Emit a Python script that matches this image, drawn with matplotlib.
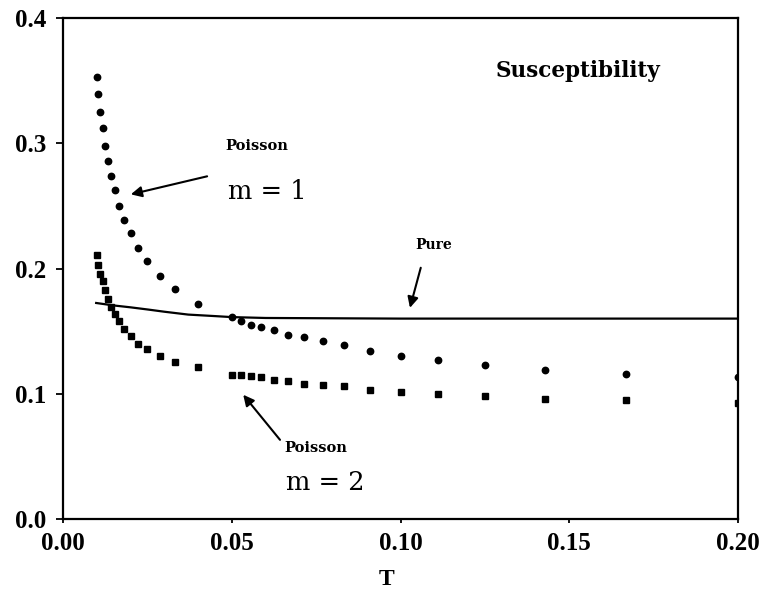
import matplotlib
matplotlib.use("Agg")
import matplotlib.pyplot as plt

# ---- data ----
t_m1 = [0.0100, 0.0105, 0.0111, 0.0118, 0.0125, 0.0133, 0.0143, 0.0154, 0.0167,
        0.0182, 0.0200, 0.0222, 0.0250, 0.0286, 0.0333, 0.0400, 0.0500, 0.0526,
        0.0556, 0.0588, 0.0625, 0.0667, 0.0714, 0.0769, 0.0833, 0.0909, 0.1000,
        0.1111, 0.1250, 0.1429, 0.1667, 0.2000]
chi_m1 = [0.353, 0.339, 0.325, 0.312, 0.298, 0.286, 0.274, 0.263, 0.250,
          0.239, 0.228, 0.216, 0.206, 0.194, 0.184, 0.172, 0.161, 0.158,
          0.155, 0.153, 0.151, 0.147, 0.145, 0.142, 0.139, 0.134, 0.130,
          0.127, 0.123, 0.119, 0.116, 0.113]

t_m2 = t_m1
chi_m2 = [0.211, 0.203, 0.196, 0.190, 0.183, 0.176, 0.169, 0.164, 0.158,
          0.152, 0.146, 0.140, 0.136, 0.130, 0.125, 0.121, 0.115, 0.115,
          0.114, 0.113, 0.111, 0.110, 0.108, 0.107, 0.106, 0.103, 0.101,
          0.100, 0.098, 0.096, 0.095, 0.093]

t_pure = [0.0095, 0.0150, 0.0200, 0.0253, 0.0300, 0.0371, 0.0450, 0.0500, 0.0600,
          0.1000, 0.1500, 0.2000]
chi_pure = [0.1726, 0.1705, 0.1690, 0.1672, 0.1655, 0.1632, 0.1620, 0.1612, 0.1605,
            0.1600, 0.1600, 0.1600]

x_ticks = [0.00, 0.05, 0.10, 0.15, 0.20]
x_tick_labels = ["0.00", "0.05", "0.10", "0.15", "0.20"]
y_ticks = [0.0, 0.1, 0.2, 0.3, 0.4]
y_tick_labels = ["0.0", "0.1", "0.2", "0.3", "0.4"]

# ---- figure ----
fig = plt.figure(figsize=(7.71, 6.05), dpi=100)
ax = fig.add_axes([63 / 771, 1 - 519 / 605, (738 - 63) / 771, (519 - 18) / 605])

ax.plot(t_pure, chi_pure, color="black", lw=1.6, solid_capstyle="butt")
ax.plot(t_m1, chi_m1, linestyle="none", marker="o", ms=4.6, color="black")
ax.plot(t_m2, chi_m2, linestyle="none", marker="s", ms=4.2, color="black")

ax.set_xlim(0, 0.2)
ax.set_ylim(0, 0.4)
ax.set_xticks(x_ticks)
ax.set_xticklabels(x_tick_labels)
ax.set_yticks(y_ticks)
ax.set_yticklabels(y_tick_labels)

for lab in ax.get_xticklabels() + ax.get_yticklabels():
    lab.set_fontfamily("Liberation Serif")
    lab.set_fontweight("bold")
    lab.set_fontsize(18)

ax.tick_params(axis="y", direction="out", length=5, width=1.3, pad=7)
ax.tick_params(axis="x", direction="out", length=3, width=1.3, pad=6)
for s in ax.spines.values():
    s.set_linewidth(1.6)

ax.set_xlabel("T", family="Liberation Serif", weight="bold", fontsize=17)
ax.xaxis.set_label_coords(0.48, -0.12)
ax.xaxis.label.set_verticalalignment("center")

lab_font = dict(family="DejaVu Serif", weight="bold")
big_font = dict(family="DejaVu Serif", weight="normal")

ax.text(0.1526, 0.3576, "Susceptibility", ha="center", va="center", fontsize=15.5, **lab_font)
ax.text(0.0575, 0.2976, "Poisson", ha="center", va="center", fontsize=10.5, **lab_font)
ax.text(0.0604, 0.2616, "m = 1", ha="center", va="center", fontsize=18.5, **big_font)
ax.text(0.1099, 0.2184, "Pure", ha="center", va="center", fontsize=10, **lab_font)
ax.text(0.0750, 0.0568, "Poisson", ha="center", va="center", fontsize=10.5, **lab_font)
ax.text(0.0776, 0.0288, "m = 2", ha="center", va="center", fontsize=18.5, **big_font)

arrow = dict(arrowstyle="-|>", color="black", lw=1.5, mutation_scale=16, shrinkA=0, shrinkB=0)
ax.annotate("", xy=(0.0201, 0.2592), xytext=(0.0427, 0.2736), arrowprops=arrow)
ax.annotate("", xy=(0.1028, 0.1686), xytext=(0.1060, 0.2006), arrowprops=arrow)
ax.annotate("", xy=(0.0534, 0.0992), xytext=(0.0643, 0.0632), arrowprops=arrow)

fig.savefig("out.png", dpi=100)
